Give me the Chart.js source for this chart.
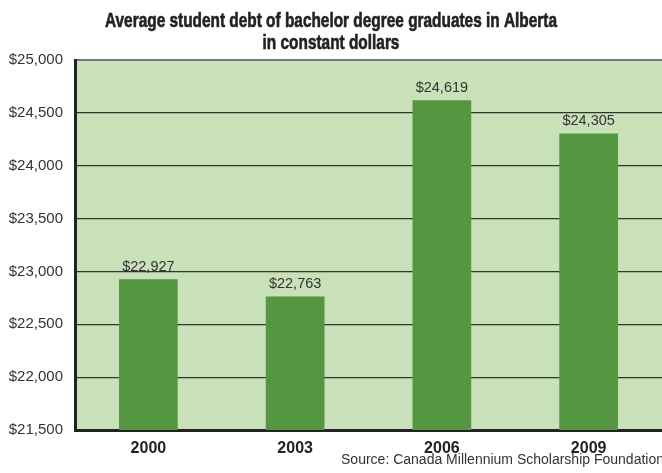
<!DOCTYPE html>
<html>
<head>
<meta charset="utf-8">
<script src="https://cdn.jsdelivr.net/npm/chart.js@4/dist/chart.umd.min.js"></script>
<style>
  html, body { margin: 0; padding: 0; background: #fff; }
  #wrap { width: 662px; height: 473px; }
</style>
</head>
<body>
<div id="wrap"><canvas id="myChart" width="662" height="473"></canvas></div>
<script>
// Average student debt, bachelor graduates, Alberta (constant dollars)
const years = ['2000', '2003', '2006', '2009'];
const debt = [22927, 22763, 24619, 24305];
const yMin = 21500;
const yMax = 25000;
const yStep = 500;

const titleLines = ['Average student debt of bachelor degree graduates in Alberta', 'in constant dollars'];
const sourceText = 'Source: Canada Millennium Scholarship Foundation';

function dollars(v) {
    return '$' + Math.round(v).toLocaleString('en-US');
}

// light green panel behind the bars
const plotBackground = {
    id: 'plotBackground',
    beforeDraw(chart) {
        const { ctx, chartArea } = chart;
        ctx.save();
        ctx.fillStyle = '#c9e1b9';
        ctx.fillRect(chartArea.left, chartArea.top, chartArea.right - chartArea.left, chartArea.bottom - chartArea.top);
        ctx.restore();
    }
};

// value above each bar
const valueLabels = {
    id: 'valueLabels',
    afterDatasetsDraw(chart) {
        const ctx = chart.ctx;
        const meta = chart.getDatasetMeta(0);
        ctx.save();
        ctx.font = '14.5px "Liberation Sans", Arial, sans-serif';
        ctx.fillStyle = '#333';
        ctx.textAlign = 'center';
        ctx.textBaseline = 'alphabetic';
        meta.data.forEach((bar, i) => {
            ctx.fillText(dollars(debt[i]), bar.x, bar.y - 8.5);
        });
        ctx.restore();
    }
};

// condensed look: squeeze the bold face horizontally, thicken a little
function narrowText(ctx, text, cx, cy, squeeze) {
    ctx.save();
    ctx.translate(cx, cy);
    ctx.scale(squeeze, 1);
    ctx.fillText(text, 0, 0);
    ctx.strokeText(text, 0, 0);
    ctx.restore();
}

// heading and source note
const headings = {
    id: 'headings',
    afterDraw(chart) {
        const ctx = chart.ctx;
        ctx.save();
        ctx.fillStyle = '#222';
        ctx.strokeStyle = '#222';
        ctx.lineWidth = 0.6;
        ctx.textAlign = 'center';
        ctx.textBaseline = 'alphabetic';
        ctx.font = 'bold 20px "Liberation Sans", Arial, sans-serif';
        const squeeze = 452 / ctx.measureText(titleLines[0]).width;
        narrowText(ctx, titleLines[0], 331, 27, squeeze);
        narrowText(ctx, titleLines[1], 331, 49, squeeze);
        ctx.fillStyle = '#333';
        ctx.textAlign = 'right';
        ctx.textBaseline = 'middle';
        ctx.font = '14px "Liberation Sans", Arial, sans-serif';
        ctx.fillText(sourceText, 664, 460);
        ctx.restore();
    }
};

const ctx = document.getElementById('myChart').getContext('2d');
new Chart(ctx, {
    type: 'bar',
    data: {
        labels: years,
        datasets: [{
            data: debt,
            backgroundColor: '#559641',
            borderWidth: 0,
            barPercentage: 0.4,
            categoryPercentage: 1
        }]
    },
    options: {
        responsive: false,
        animation: false,
        layout: { padding: { top: 60, left: 0, right: 0, bottom: 0 } },
        plugins: {
            legend: { display: false },
            tooltip: { enabled: false },
            title: { display: false }
        },
        scales: {
            x: {
                grid: { display: false },
                border: { display: true, color: '#222', width: 3 },
                ticks: {
                    color: '#222',
                    padding: 1,
                    font: { family: '"Liberation Sans", Arial, sans-serif', size: 16, weight: 'bold' }
                },
                afterFit(axis) { axis.height = 43; }
            },
            y: {
                min: yMin,
                max: yMax,
                grid: {
                    drawTicks: false,
                    color: c => (c.tick && c.tick.value === yMax) ? '#777' : '#333',
                    lineWidth: c => (c.tick && c.tick.value === yMax) ? 2 : 1.2
                },
                border: { display: true, color: '#222', width: 3 },
                ticks: {
                    stepSize: yStep,
                    color: '#333',
                    padding: 12,
                    font: { family: '"Liberation Sans", Arial, sans-serif', size: 15 },
                    callback: v => dollars(v)
                },
                afterFit(axis) { axis.width = 75; }
            }
        }
    },
    plugins: [plotBackground, valueLabels, headings]
});
</script>
</body>
</html>
